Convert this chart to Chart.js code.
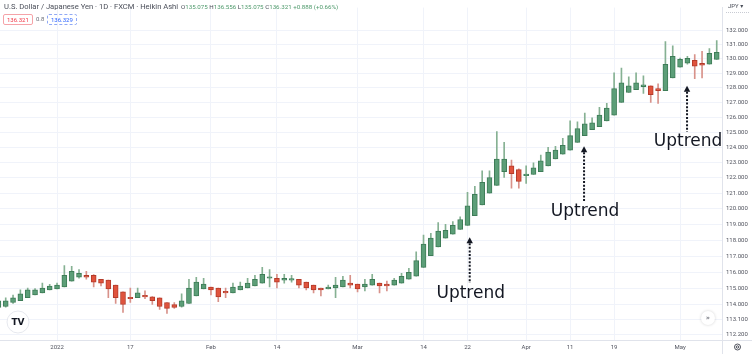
<!DOCTYPE html>
<html>
<head>
<meta charset="utf-8">
<script src="https://cdn.jsdelivr.net/npm/chart.js@4"></script>
<style>
  html, body { margin: 0; padding: 0; background: #fff; }
  #wrap { position: relative; width: 752px; height: 354px; overflow: hidden; font-family: Roboto, "DejaVu Sans", sans-serif; }
  #chart { position: absolute; left: 0; top: 0; }
  .hdr { position: absolute; white-space: nowrap; }
  #title { left: 4px; top: 2px; font-size: 7.6px; color: #4a4e59; }
  #ohlc { left: 181px; top: 2.5px; font-size: 6.2px; color: #4a4e59; }
  #ohlc b { font-weight: normal; color: #4f9a6c; }
  .box { position: absolute; top: 14px; height: 9px; line-height: 9px; font-size: 6px; padding: 0 3px; border-radius: 2px; }
  #bid { left: 3px; border: 1px solid #f5a3a8; color: #f23645; }
  #spread { position: absolute; left: 36px; top: 15px; font-size: 6px; color: #6a6d78; }
  #ask { left: 47px; border: 1px dashed #90a9f5; color: #2962ff; }
  #ccy { position: absolute; left: 728px; top: 2px; font-size: 6px; color: #4a4e59; }
</style>
</head>
<body>
<div id="wrap">
  <canvas id="chart" width="752" height="354"></canvas>
  <div class="hdr" id="title">U.S. Dollar / Japanese Yen · 1D · FXCM · Heikin Ashi</div>
  <div class="hdr" id="ohlc">O<b>135.075</b> H<b>136.556</b> L<b>135.075</b> C<b>136.321</b> <b>+0.888 (+0.66%)</b></div>
  <div class="box" id="bid">136.321</div>
  <div id="spread">0.8</div>
  <div class="box" id="ask">136.329</div>
  <div id="ccy">JPY ▾</div>
</div>
<script>
// Heikin Ashi candles, USD/JPY daily (first candle sits at index -1)
const firstIndex = -1;
const opens = [
  113.83, 113.89, 114.13, 114.24, 114.42, 114.60, 114.72, 114.90, 114.96, 115.08,
  115.44, 115.68, 115.80, 115.80, 115.56, 115.50, 115.20, 114.78, 114.42, 114.42,
  114.54, 114.48, 114.42, 114.13, 114.01, 113.89, 114.07, 114.54, 114.96, 115.08,
  115.02, 114.78, 114.72, 114.90, 115.02, 115.14, 115.32, 115.62, 115.62, 115.50,
  115.50, 115.56, 115.38, 115.20, 115.02, 114.96, 115.02, 115.08, 115.32, 115.26,
  115.08, 115.20, 115.32, 115.26, 115.20, 115.32, 115.56, 115.74, 116.29, 117.02,
  117.57, 118.12, 118.37, 118.68, 118.93, 119.55, 120.23, 120.99, 121.50, 122.39,
  122.77, 122.52, 122.13, 122.20, 122.39, 122.77, 123.22, 123.54, 123.80, 124.32,
  124.77, 125.16, 125.36, 125.75, 126.14, 127.00, 127.67, 127.87, 128.07, 128.13,
  127.93, 127.80, 128.67, 129.41, 129.68, 129.88, 129.68, 129.61, 129.95
];
const highs = [
  114.36, 114.42, 114.58, 114.90, 115.02, 114.99, 115.32, 115.24, 115.32, 116.41,
  116.35, 116.16, 116.04, 115.85, 115.56, 115.50, 115.20, 114.78, 115.02, 115.02,
  114.84, 114.50, 114.42, 114.13, 114.13, 114.66, 115.56, 115.68, 115.62, 115.08,
  115.02, 115.02, 115.32, 115.38, 115.62, 115.80, 116.29, 116.16, 115.86, 115.86,
  115.80, 115.56, 115.38, 115.20, 115.02, 115.20, 115.68, 115.74, 115.80, 115.26,
  115.56, 115.86, 115.32, 115.44, 115.62, 115.92, 116.23, 117.26, 118.31, 118.43,
  119.11, 118.99, 119.17, 119.48, 121.05, 121.43, 122.45, 122.45, 125.03, 124.32,
  123.15, 122.58, 122.77, 122.96, 123.48, 123.99, 124.06, 124.58, 125.75, 125.69,
  126.28, 125.95, 126.67, 126.93, 129.01, 129.34, 128.74, 129.01, 128.81, 128.13,
  128.27, 131.18, 130.90, 130.04, 130.16, 130.29, 130.50, 130.70, 131.25
];
const lows = [
  113.83, 113.85, 114.07, 114.24, 114.42, 114.60, 114.72, 114.90, 114.96, 115.08,
  115.44, 115.62, 115.56, 115.08, 115.14, 114.42, 114.07, 113.53, 114.13, 114.42,
  114.36, 114.01, 113.71, 113.47, 113.77, 113.85, 114.07, 114.54, 114.96, 114.60,
  114.18, 114.42, 114.72, 114.90, 115.02, 115.14, 115.32, 115.08, 115.02, 115.32,
  115.38, 115.02, 114.90, 114.72, 114.54, 114.96, 114.42, 115.08, 115.02, 114.78,
  114.84, 115.20, 114.72, 114.84, 115.20, 115.32, 115.56, 115.74, 116.29, 117.02,
  117.57, 118.12, 118.37, 118.68, 118.93, 119.55, 120.23, 120.99, 121.50, 122.01,
  121.31, 121.31, 121.62, 122.20, 122.39, 122.77, 123.22, 123.54, 123.80, 124.32,
  124.77, 125.16, 125.36, 125.75, 126.14, 127.00, 127.67, 127.87, 127.60, 127.00,
  126.93, 127.80, 128.67, 129.41, 129.61, 128.61, 128.67, 129.61, 129.95
];
const closes = [
  114.24, 114.24, 114.42, 114.66, 114.90, 114.90, 115.02, 115.14, 115.20, 115.80,
  116.04, 115.92, 115.68, 115.38, 115.32, 114.96, 114.42, 114.01, 114.36, 114.72,
  114.48, 114.24, 113.89, 113.77, 113.83, 114.24, 115.02, 115.38, 115.26, 114.90,
  114.48, 114.72, 115.08, 115.14, 115.32, 115.56, 115.86, 115.68, 115.38, 115.62,
  115.56, 115.20, 115.02, 114.90, 114.90, 115.08, 115.20, 115.50, 115.20, 114.96,
  115.26, 115.56, 115.14, 115.14, 115.50, 115.74, 115.98, 116.71, 117.75, 118.12,
  118.56, 118.62, 118.93, 119.30, 120.17, 120.92, 121.69, 122.01, 123.22, 123.22,
  122.26, 121.75, 122.20, 122.64, 123.09, 123.67, 123.80, 124.12, 124.77, 125.23,
  125.56, 125.62, 126.14, 126.61, 127.93, 128.34, 128.13, 128.34, 128.20, 127.53,
  127.80, 129.61, 130.16, 129.95, 130.02, 129.48, 129.54, 130.36, 130.43
];

// time axis labels (candle index -> label)
const xTickIndex = [7, 17, 28, 37, 48, 57, 63, 71, 77, 83, 92];
const xTickLabels = ['2022', '17', 'Feb', '14', 'Mar', '14', '22', 'Apr', '11', '19', 'May'];

// price axis labels
const yTicks = [132, 131, 130, 129, 128, 127, 126, 125, 124, 123, 122, 121, 120, 119, 118, 117, 116, 115, 114, 113.1, 112.2];

// "Uptrend" callouts: candle index, arrow tip price, arrow base price
const callouts = [
  { index: 63.3, tip: 118.18, base: 115.32, text: 'Uptrend' },
  { index: 78.9, tip: 124.06, base: 120.48, text: 'Uptrend' },
  { index: 92.95, tip: 128.13, base: 125.03, text: 'Uptrend' }
];

const colors = {
  upBody: '#5c9e78', upBorder: '#3e7c57', upWick: '#86b193',
  downBody: '#e0533d', downBorder: '#b43b2a', downWick: '#d8928a',
  grid: '#f0f3fa', axis: '#e0e3eb', tick: '#50535e', ink: '#131722'
};

const isUp = i => closes[i] >= opens[i];

const bodies = opens.map((o, i) => ({ x: firstIndex + i, y: [o, closes[i]] }));
const wicks = lows.map((l, i) => ({ x: firstIndex + i, y: [l, highs[i]] }));

const extras = {
  id: 'extras',
  afterDraw(chart) {
    const { ctx, chartArea: area, scales: { x, y } } = chart;
    ctx.save();

    // axis borders extended into the corner
    ctx.strokeStyle = colors.axis;
    ctx.lineWidth = 1;
    ctx.beginPath();
    ctx.moveTo(area.right, area.bottom + 0.5);
    ctx.lineTo(752, area.bottom + 0.5);
    ctx.moveTo(area.right + 0.5, area.bottom);
    ctx.lineTo(area.right + 0.5, 354);
    ctx.stroke();

    // uptrend arrows + labels
    callouts.forEach(c => {
      const px = x.getPixelForValue(c.index);
      const tipY = y.getPixelForValue(c.tip);
      const baseY = y.getPixelForValue(c.base);
      ctx.fillStyle = colors.ink;
      ctx.beginPath();
      ctx.moveTo(px, tipY);
      ctx.lineTo(px - 3.2, tipY + 6);
      ctx.lineTo(px + 3.2, tipY + 6);
      ctx.closePath();
      ctx.fill();
      ctx.strokeStyle = colors.ink;
      ctx.lineWidth = 2;
      ctx.setLineDash([2, 1.6]);
      ctx.beginPath();
      ctx.moveTo(px, tipY + 6);
      ctx.lineTo(px, baseY);
      ctx.stroke();
      ctx.setLineDash([]);
      ctx.font = '17px "DejaVu Sans"';
      ctx.textAlign = 'center';
      ctx.textBaseline = 'alphabetic';
      ctx.fillText(c.text, px + 1, baseY + 14.5);
    });

    // TradingView badge
    ctx.fillStyle = '#fff';
    ctx.strokeStyle = '#e6e8ee';
    ctx.lineWidth = 1;
    ctx.beginPath();
    ctx.arc(18, 322, 11, 0, Math.PI * 2);
    ctx.fill();
    ctx.stroke();
    ctx.fillStyle = colors.ink;
    ctx.font = 'bold 9px "DejaVu Sans"';
    ctx.textAlign = 'center';
    ctx.textBaseline = 'middle';
    ctx.fillText('TV', 18, 322.5);

    // scroll-to-latest button
    ctx.shadowColor = 'rgba(0,0,0,0.18)';
    ctx.shadowBlur = 3;
    ctx.fillStyle = '#fff';
    ctx.beginPath();
    ctx.arc(708, 318, 7, 0, Math.PI * 2);
    ctx.fill();
    ctx.shadowBlur = 0;
    ctx.fillStyle = '#50535e';
    ctx.font = '7px "DejaVu Sans"';
    ctx.fillText('»', 708, 318);

    // settings gear
    ctx.strokeStyle = '#50535e';
    ctx.lineWidth = 1;
    ctx.beginPath();
    ctx.arc(737.5, 347, 3, 0, Math.PI * 2);
    ctx.stroke();
    ctx.beginPath();
    ctx.arc(737.5, 347, 1.2, 0, Math.PI * 2);
    ctx.stroke();

    // dotted line under currency label
    ctx.strokeStyle = '#c8cbd3';
    ctx.setLineDash([1, 1]);
    ctx.beginPath();
    ctx.moveTo(726, 12.5);
    ctx.lineTo(750, 12.5);
    ctx.stroke();
    ctx.restore();
  }
};

new Chart(document.getElementById('chart'), {
  type: 'bar',
  data: {
    datasets: [
      {
        label: 'body',
        data: bodies,
        order: 1,
        grouped: false,
        barThickness: 5,
        minBarLength: 1.5,
        borderSkipped: false,
        borderWidth: 1,
        backgroundColor: c => isUp(c.dataIndex) ? colors.upBody : colors.downBody,
        borderColor: c => isUp(c.dataIndex) ? colors.upBorder : colors.downBorder
      },
      {
        label: 'wick',
        data: wicks,
        order: 2,
        grouped: false,
        barThickness: 1,
        borderWidth: 0,
        backgroundColor: c => isUp(c.dataIndex) ? colors.upWick : colors.downWick
      }
    ]
  },
  plugins: [extras],
  options: {
    responsive: false,
    animation: false,
    layout: { padding: 0 },
    plugins: { legend: { display: false }, tooltip: { enabled: false } },
    scales: {
      x: {
        type: 'linear',
        min: -0.78,
        max: 97.72,
        offset: false,
        afterBuildTicks: s => { s.ticks = xTickIndex.map(v => ({ value: v })); },
        afterFit: s => { s.height = 14; },
        grid: { color: colors.grid, drawTicks: false, offset: false },
        border: { color: colors.axis },
        ticks: {
          autoSkip: false,
          maxRotation: 0,
          padding: 4,
          color: colors.tick,
          font: { family: 'Roboto', size: 6 },
          callback: (v, i) => xTickLabels[i]
        }
      },
      y: {
        type: 'logarithmic',
        position: 'right',
        min: 111.87,
        max: 133.59,
        afterBuildTicks: s => { s.ticks = yTicks.map(v => ({ value: v, major: false })); },
        afterFit: s => { s.width = 30; },
        grid: { color: colors.grid, drawTicks: false },
        border: { color: colors.axis },
        ticks: {
          autoSkip: false,
          padding: 4,
          color: colors.tick,
          font: { family: 'Roboto', size: 6 },
          callback: v => Number(v).toFixed(3)
        }
      }
    }
  }
});
</script>
</body>
</html>
